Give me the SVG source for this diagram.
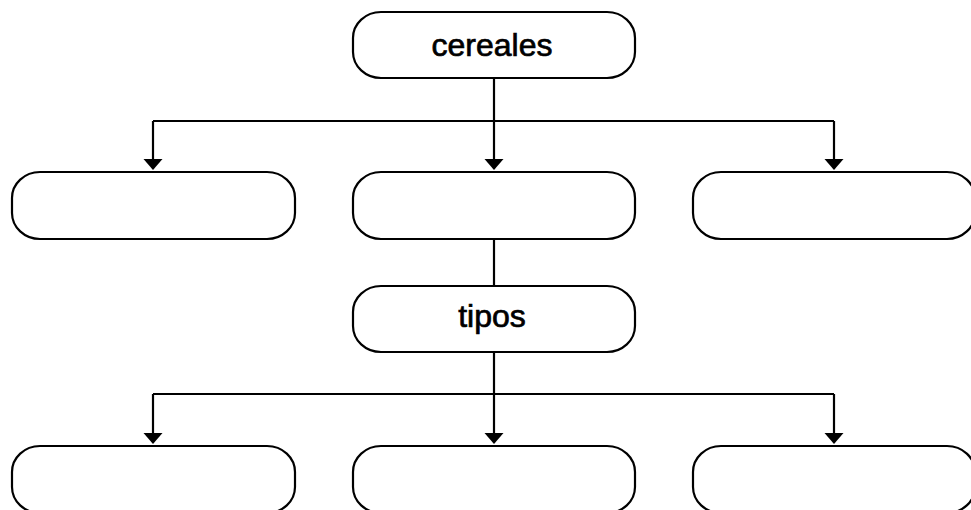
<svg xmlns="http://www.w3.org/2000/svg" width="971" height="510" viewBox="0 0 971 510">
<style>
.n{fill:#fff;stroke:#000;stroke-width:2.2}
.c{fill:none;stroke:#000;stroke-width:2.2}
.h{fill:#000}
.t{font-family:"Liberation Sans",Arial,sans-serif;font-size:32px;fill:#000;stroke:#000;stroke-width:0.7;text-anchor:middle}
</style>
<rect width="971" height="510" fill="#fff"/>
<g id="connectors">
<path class="c" d="M494,78 V121"/>
<path class="c" d="M153,121 H834"/>
<path class="c" d="M153,121 V159"/>
<path class="c" d="M494,121 V159"/>
<path class="c" d="M834,121 V159"/>
<path class="h" d="M143.5,159 H162.5 L153,170 Z"/>
<path class="h" d="M484.5,159 H503.5 L494,170 Z"/>
<path class="h" d="M824.5,159 H843.5 L834,170 Z"/>
<path class="c" d="M494,239 V286"/>
<path class="c" d="M494,352 V394"/>
<path class="c" d="M153,394 H834"/>
<path class="c" d="M153,394 V434"/>
<path class="c" d="M494,394 V434"/>
<path class="c" d="M834,394 V434"/>
<path class="h" d="M143.5,433 H162.5 L153,444 Z"/>
<path class="h" d="M484.5,433 H503.5 L494,444 Z"/>
<path class="h" d="M824.5,433 H843.5 L834,444 Z"/>
</g>
<g id="cereales"><rect class="n" x="353" y="12" width="282" height="66" rx="28" ry="26"/><text class="t" x="492" y="56">cereales</text></g>
<g id="n1"><rect class="n" x="12" y="172" width="283" height="67" rx="28" ry="26"/></g>
<g id="n2"><rect class="n" x="353" y="172" width="282" height="67" rx="28" ry="26"/></g>
<g id="n3"><rect class="n" x="693" y="172" width="282" height="67" rx="28" ry="26"/></g>
<g id="tipos"><rect class="n" x="353" y="286" width="282" height="66" rx="28" ry="26"/><text class="t" x="492" y="327">tipos</text></g>
<g id="n4"><rect class="n" x="12" y="446" width="283" height="67" rx="28" ry="26"/></g>
<g id="n5"><rect class="n" x="353" y="446" width="282" height="67" rx="28" ry="26"/></g>
<g id="n6"><rect class="n" x="693" y="446" width="282" height="67" rx="28" ry="26"/></g>
</svg>
